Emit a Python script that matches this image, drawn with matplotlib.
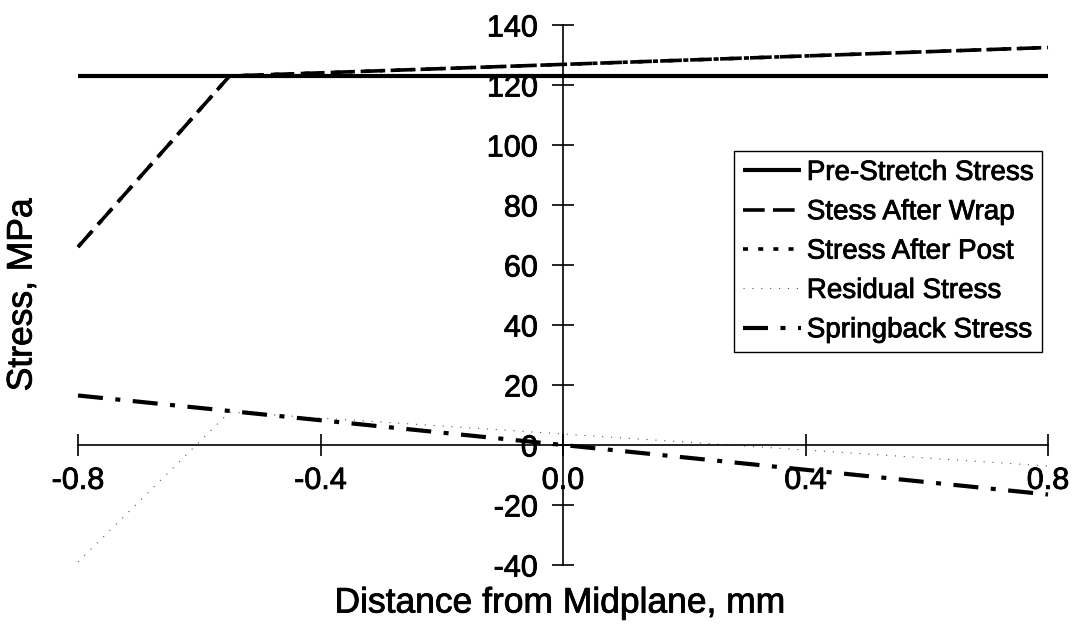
import matplotlib
matplotlib.use("Agg")
import matplotlib.pyplot as plt
import matplotlib.patheffects as pe

# data
x_pts = [-0.8, -0.55, 0.8]
pre_stretch = [123, 123, 123]
after_wrap = [66, 123, 132.5]
after_post = [66, 123, 132.5]
residual = [-39, 11, -7]
spring_x = [-0.8, 0.8]
springback = [16.5, -16.5]

xticks = [-0.8, -0.4, 0.0, 0.4, 0.8]
xtick_labels = ["-0.8", "-0.4", "0.0", "0.4", "0.8"]
yticks = list(range(-40, 141, 20))

plt.rcParams['font.family'] = ['Liberation Sans', 'DejaVu Sans']
plt.rcParams['axes.unicode_minus'] = False

# the scanned original has slightly heavier text
heavy = [pe.withStroke(linewidth=0.6, foreground='black')]

fig = plt.figure(figsize=(10.78, 6.31), dpi=100)
ax = fig.add_axes([78 / 1078, 1 - 565 / 631, 970 / 1078, 540 / 631])

ax.plot(x_pts, pre_stretch, color='black', lw=3, solid_capstyle='butt',
        label='Pre-Stretch Stress', clip_on=False)
ax.plot(x_pts, after_wrap, color='black', lw=2.6, ls=(0, (6, 2.3)),
        label='Stess After Wrap', clip_on=False)
ax.plot(x_pts, after_post, color='black', lw=2.6, ls=(0, (1.4, 2.8)),
        label='Stress After Post', clip_on=False)
ax.plot(x_pts, residual, color='#555555', lw=0.8, ls=(0, (1, 7)),
        label='Residual Stress', clip_on=False)
ax.plot(spring_x, springback, color='black', lw=3, ls=(0, (6, 3, 1.2, 3)),
        label='Springback Stress', clip_on=False)

ax.set_xlim(-0.8, 0.8)
ax.set_ylim(-40, 140)
ax.spines['left'].set_position(('data', 0))
ax.spines['bottom'].set_position(('data', 0))
ax.spines['top'].set_visible(False)
ax.spines['right'].set_visible(False)
for s in ['left', 'bottom']:
    ax.spines[s].set_linewidth(1.2)
ax.set_xticks(xticks)
ax.set_xticklabels(xtick_labels)
ax.set_yticks(yticks)
ax.tick_params(direction='inout', length=16, width=1.2, labelsize=22, pad=7)
ax.tick_params(axis='y', pad=10)
ax.patch.set_visible(False)
for lbl in ax.get_xticklabels() + ax.get_yticklabels():
    lbl.set_path_effects(heavy)

leg = ax.legend(loc='upper left', bbox_to_anchor=(734 / 1078, 1 - 151 / 631),
                bbox_transform=fig.transFigure, fontsize=20, fancybox=False,
                edgecolor='black', framealpha=1, handlelength=2.1,
                handletextpad=0.2, labelspacing=0.48, borderpad=0.32,
                borderaxespad=0)
leg.get_frame().set_linewidth(1.0)
for t in leg.get_texts():
    t.set_path_effects(heavy)

fig.text(560 / 1078, 1 - 603 / 631, 'Distance from Midplane, mm',
         ha='center', va='center', fontsize=25.5, path_effects=heavy)
fig.text(22 / 1078, 1 - 295 / 631, 'Stress, MPa', rotation=90,
         ha='center', va='center', fontsize=25.5, path_effects=heavy)

fig.savefig('out.png', dpi=100)
